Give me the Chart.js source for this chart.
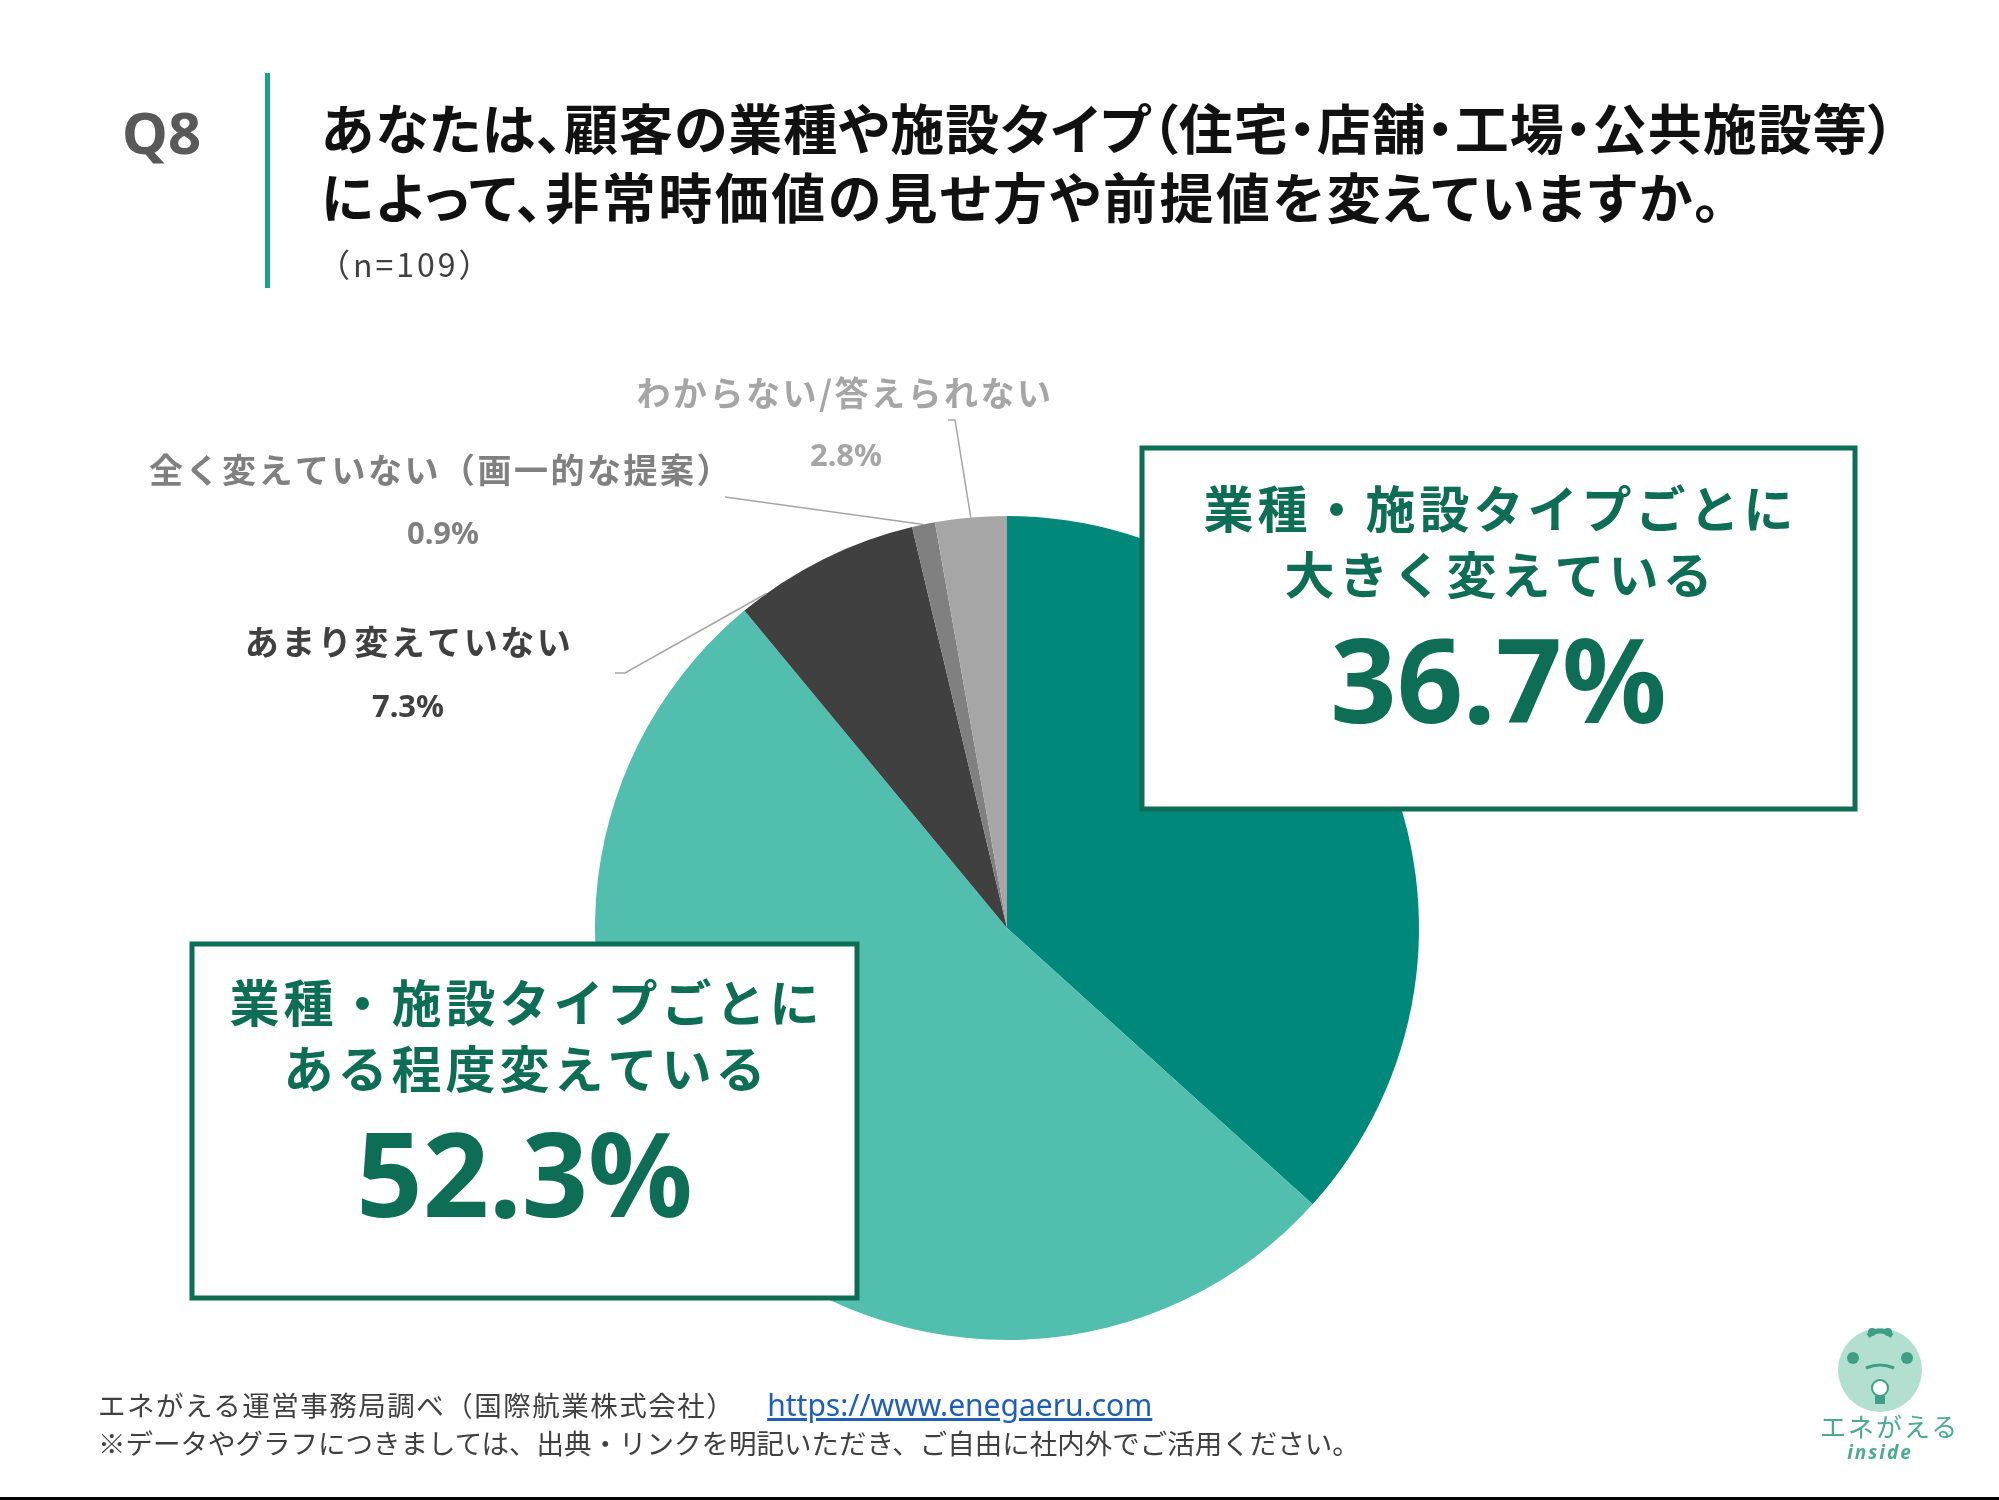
<!DOCTYPE html>
<html lang="ja">
<head>
<meta charset="utf-8">
<title>Q8</title>
<script src="https://cdn.jsdelivr.net/npm/chart.js@4.4.1/dist/chart.umd.min.js"></script>
<style>
html, body { margin: 0; padding: 0; background: #fff; }
body { width: 1999px; height: 1500px; position: relative; overflow: hidden; font-family: "Noto Sans CJK JP", "Noto Sans", sans-serif; }
#chartWrap { position: absolute; left: 0; top: 0; width: 1999px; height: 1500px; }
.abs { position: absolute; white-space: nowrap; }
#q8 { left: 122px; top: 99px; font: bold 58px "Noto Sans", "Open Sans", sans-serif; color: #595959; line-height: 66px; }
#bar { left: 265px; top: 73px; width: 5px; height: 215px; background: #1FA08A; }
.title { left: 321px; font-size: 54px; font-weight: bold; color: #111; line-height: 60px; font-feature-settings: "palt"; }
#t1 { top: 97px; letter-spacing: 1px; }
#t2 { top: 166px; letter-spacing: 2.5px; }
#n { left: 318px; top: 244px; font-size: 32px; color: #404040; line-height: 38px; letter-spacing: 3px; }
.foot { left: 98px; font-size: 27.5px; color: #404040; line-height: 34px; }
#f1 { top: 1384px; letter-spacing: 1.5px; }
#f2 { top: 1425px; }
#f1 a { color: #1F5FB8; text-decoration: underline; margin-left: 32px; font: 30px "Noto Sans", sans-serif; letter-spacing: 0; }
#bottomLine { left: 0; top: 1497px; width: 1999px; height: 3px; background: #000; }
#logo { left: 1820px; top: 1318px; width: 120px; text-align: center; }
#logo .name { font-size: 26px; color: #4BAA94; line-height: 26px; letter-spacing: 2px; margin-top: -6px; }
#logo .inside { font: italic bold 19px "Noto Sans", sans-serif; color: #4BAA94; line-height: 26px; letter-spacing: 2px; }
</style>
</head>
<body>
<div id="chartWrap"><canvas id="pieChart"></canvas></div>

<div class="abs" id="q8">Q8</div>
<div class="abs" id="bar"></div>
<div class="abs title" id="t1">あなたは、顧客の業種や施設タイプ（住宅・店舗・工場・公共施設等）</div>
<div class="abs title" id="t2">によって、非常時価値の見せ方や前提値を変えていますか。</div>
<div class="abs" id="n">（n=109）</div>

<div class="abs foot" id="f1">エネがえる運営事務局調べ（国際航業株式会社）<a href="https://www.enegaeru.com">https://www.enegaeru.com</a></div>
<div class="abs foot" id="f2">※データやグラフにつきましては、出典・リンクを明記いただき、ご自由に社内外でご活用ください。</div>

<div class="abs" id="logo">
  <svg width="120" height="96" viewBox="0 0 120 96">
    <circle cx="60" cy="52" r="42" fill="#B3DFD1"/>
    <path d="M48 18 q12 -10 24 0" stroke="#3E9E86" stroke-width="5" fill="none"/>
    <circle cx="52" cy="14" r="4" fill="#3E9E86"/>
    <circle cx="68" cy="14" r="4" fill="#3E9E86"/>
    <circle cx="33" cy="40" r="6" fill="#3E9E86"/>
    <circle cx="87" cy="40" r="6" fill="#3E9E86"/>
    <path d="M46 50 q14 -6 28 0" stroke="#3E9E86" stroke-width="3" fill="none"/>
    <circle cx="60" cy="70" r="8" stroke="#3E9E86" stroke-width="2" fill="#fff"/>
    <rect x="55" y="78" width="10" height="8" fill="#3E9E86"/>
  </svg>
  <div class="name">エネがえる</div>
  <div class="inside">inside</div>
</div>

<div class="abs" id="bottomLine"></div>

<script>
// 回答データ（n=109）
const categories = [
  '業種・施設タイプごとに大きく変えている',
  '業種・施設タイプごとにある程度変えている',
  'あまり変えていない',
  '全く変えていない（画一的な提案）',
  'わからない/答えられない'
];
const values = [36.7, 52.3, 7.3, 0.9, 2.8];
const sliceColors = ['#00897B', '#52BEAE', '#404040', '#808080', '#A6A6A6'];

// 枠付きラベルの表示行
const boxLines = [
  ['業種・施設タイプごとに', '大きく変えている'],
  ['業種・施設タイプごとに', 'ある程度変えている']
];

// ラベル位置（レイアウト用）
const boxLayout = {
  0: { left: 1142, top: 448, right: 1855, bottom: 809, lineY: [509, 575], numY: 723 },
  1: { left: 192, top: 944, right: 857, bottom: 1298, lineY: [1003, 1069], numY: 1217 }
};
const calloutLayout = {
  2: { x: 409, y: 642, pctX: 408, pctY: 708, color: '#404040', path: [[615, 673], [625, 673]], at: 0.15 },
  3: { x: 441, y: 470, pctX: 443, pctY: 535, color: '#808080', path: [[725, 497]], at: 0.5 },
  4: { x: 845, y: 393, pctX: 846, pctY: 457, color: '#A6A6A6', path: [[948, 420], [955, 420]], at: 0.5 }
};

const boxColor = '#0E6E55';

const sliceLabels = {
  id: 'sliceLabels',
  afterDatasetsDraw(chart) {
    const ctx = chart.ctx;
    const arcs = chart.getDatasetMeta(0).data;
    ctx.save();

    // 引き出し線と外側ラベル
    Object.keys(calloutLayout).forEach(k => {
      const i = +k;
      const c = calloutLayout[i];
      const a = arcs[i].getProps(['x', 'y', 'startAngle', 'endAngle', 'outerRadius'], true);
      const ang = a.startAngle + (a.endAngle - a.startAngle) * c.at;
      const ex = a.x + a.outerRadius * Math.cos(ang);
      const ey = a.y + a.outerRadius * Math.sin(ang);
      ctx.strokeStyle = '#A6A6A6';
      ctx.lineWidth = 1.5;
      ctx.beginPath();
      ctx.moveTo(c.path[0][0], c.path[0][1]);
      for (let p = 1; p < c.path.length; p++) ctx.lineTo(c.path[p][0], c.path[p][1]);
      ctx.lineTo(ex, ey);
      ctx.stroke();

      ctx.fillStyle = c.color;
      ctx.textAlign = 'center';
      ctx.textBaseline = 'middle';
      ctx.letterSpacing = '2.5px';
      ctx.font = 'bold 34px "Noto Sans CJK JP"';
      ctx.fillText(categories[i], c.x, c.y);
      ctx.letterSpacing = '0px';
      ctx.font = 'bold 31px "Noto Sans", "Noto Sans CJK JP"';
      ctx.fillText(values[i].toFixed(1) + '%', c.pctX, c.pctY);
    });

    // 枠付きラベル
    Object.keys(boxLayout).forEach(k => {
      const i = +k;
      const b = boxLayout[i];
      ctx.fillStyle = '#fff';
      ctx.fillRect(b.left, b.top, b.right - b.left, b.bottom - b.top);
      ctx.strokeStyle = boxColor;
      ctx.lineWidth = 5;
      ctx.strokeRect(b.left, b.top, b.right - b.left, b.bottom - b.top);
      const cx = (b.left + b.right) / 2;
      ctx.fillStyle = boxColor;
      ctx.textAlign = 'center';
      ctx.textBaseline = 'middle';
      ctx.font = 'bold 50px "Noto Sans CJK JP"';
      ctx.letterSpacing = '4px';
      boxLines[i].forEach((line, j) => ctx.fillText(line, cx + 2, b.lineY[j]));
      ctx.letterSpacing = '0px';
      ctx.textBaseline = 'alphabetic';
      ctx.font = 'bold 116px "Noto Sans", "Noto Sans CJK JP"';
      ctx.fillText(values[i].toFixed(1) + '%', cx, b.numY);
    });
    ctx.restore();
  }
};

new Chart(document.getElementById('pieChart'), {
  type: 'pie',
  data: {
    labels: categories,
    datasets: [{
      data: values,
      backgroundColor: sliceColors,
      borderWidth: 0,
      hoverOffset: 0
    }]
  },
  options: {
    responsive: true,
    maintainAspectRatio: false,
    animation: false,
    layout: { padding: { left: 595, right: 580, top: 516, bottom: 160 } },
    plugins: {
      legend: { display: false },
      tooltip: { enabled: false }
    }
  },
  plugins: [sliceLabels]
});
</script>
</body>
</html>
